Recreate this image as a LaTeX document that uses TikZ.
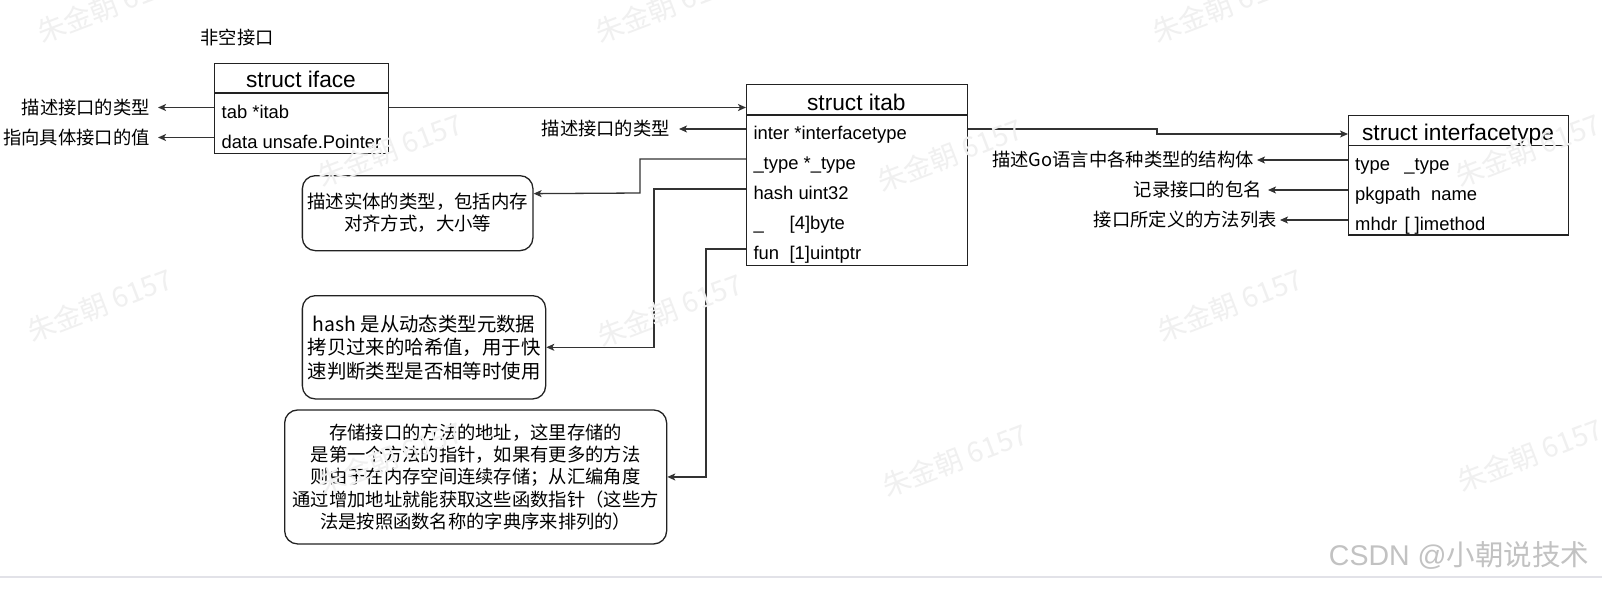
\documentclass[tikz,border=0pt]{standalone}
\usepackage{fontspec}
\setmainfont{Liberation Sans}
\newfontfamily\cjk{Noto Sans CJK SC}
\usetikzlibrary{arrows.meta}
\definecolor{ln}{HTML}{333333}
\definecolor{bd}{HTML}{222222}
\definecolor{wmc}{HTML}{F0F0F0}
\definecolor{csdn}{HTML}{C2C2C2}
\definecolor{barc}{HTML}{E2E2E8}
\begin{document}
\begin{tikzpicture}[x=1pt,y=-1pt,
  box/.style={draw=bd, line width=1.3pt, fill=white, inner sep=0pt, anchor=north west},
  hdr/.style={font=\fontsize{22.7}{26}\selectfont, inner sep=0pt, anchor=base, text height=17pt, text depth=5pt},
  row/.style={font=\fontsize{18.4}{22}\selectfont, anchor=west, inner sep=0pt, text height=21pt, text depth=0pt},
  lbl/.style={font=\cjk\fontsize{18.3}{22}\selectfont, anchor=east, inner sep=0pt, text height=15pt, text depth=1.5pt},
  note/.style={draw=bd, line width=1.3pt, rounded corners=13pt, fill=white, align=center, inner sep=0pt, anchor=north west},
  conn/.style={draw=ln, line width=1.3pt, -{Stealth[length=8pt,width=7pt,inset=2pt]}},
  sep/.style={draw=bd, line width=1.3pt},
  wm/.style={font=\cjk\fontsize{28}{28}\selectfont, text=wmc, rotate=21, inner sep=0pt}
]
\useasboundingbox (0,0) rectangle (1602,592);
\fill[white] (0,0) rectangle (1602,592);

% title
\node[font=\cjk\fontsize{18.3}{22}\selectfont, inner sep=0pt] (title) at (237,38) {非空接口};

% struct iface
\node[box, minimum width=174pt, minimum height=90pt] (iface) at (214,63) {};
\draw[sep] (214,93) -- (388,93);
\node[hdr] (ifaceh) at (301,87.7) {struct iface};
\node[row] (tab) at (221.5,107.5) {tab *itab};
\node[row] (data) at (221.5,137.5) {data unsafe.Pointer};

% struct itab
\node[box, minimum width=220.7pt, minimum height=181pt] (itab) at (746,84) {};
\draw[sep] (746,115) -- (966.7,115);
\node[hdr] (itabh) at (856.3,110) {struct itab};
\node[row] (inter) at (753.3,129) {inter *interfacetype};
\node[row] (ty) at (753.3,159) {\_type *\_type};
\node[row] (hs) at (753.3,189) {hash uint32};
\node[row] (pad) at (753.3,219) {\_\hspace{26pt}[4]byte};
\node[row] (fn) at (753.3,249) {fun\hspace{10.5pt}[1]uintptr};

% struct interfacetype
\node[box, minimum width=220pt, minimum height=119.3pt] (itype) at (1348,115) {};
\draw[sep] (1348,145.7) -- (1568,145.7);
\node[hdr] (itypeh) at (1458,140) {struct interfacetype};
\node[row] (ty2) at (1355,160) {type\hspace{14.5pt}\_type};
\node[row] (pkg) at (1355,190) {pkgpath\hspace{10.5pt}name};
\node[row] (mh) at (1355,220) {mhdr\hspace{7.5pt}[\hspace{5pt}]imethod};

% notes
\node[note, minimum width=230.6pt, minimum height=75pt, font=\cjk\fontsize{18.4}{22}\selectfont] (n1) at (301.7,175)
  {描述实体的类型，包括内存\\对齐方式，大小等};
\node[note, minimum width=243.3pt, minimum height=103.3pt, font=\cjk\fontsize{19.4}{23.5}\selectfont] (n2) at (301.7,295)
  {hash 是从动态类型元数据\\拷贝过来的哈希值，用于快\\速判断类型是否相等时使用};
\node[note, minimum width=382pt, minimum height=134pt, font=\cjk\fontsize{18.3}{22.4}\selectfont] (n3) at (284,409.3)
  {存储接口的方法的地址，这里存储的\\是第一个方法的指针，如果有更多的方法\\则由于在内存空间连续存储；从汇编角度\\通过增加地址就能获取这些函数指针（这些方\\法是按照函数名称的字典序来排列的）};

% labels
\node[lbl] (lt) at (150,107.5) {描述接口的类型};
\node[lbl] (ld) at (150,137.5) {指向具体接口的值};
\node[lbl] (li) at (670,129) {描述接口的类型};
\node[lbl] (r1) at (1254,160) {描述Go语言中各种类型的结构体};
\node[lbl] (r2) at (1262,190) {记录接口的包名};
\node[lbl] (r3) at (1277,220) {接口所定义的方法列表};

% connectors
\draw[conn] (iface.west |- tab.west) -- ([xshift=8pt]lt.east);
\draw[conn] (iface.west |- data.west) -- ([xshift=8pt]ld.east);
\draw[conn] (iface.east |- tab.west) -- (itab.west |- tab.west);
\draw[conn] (itab.west |- inter.west) -- ([xshift=9pt]li.east);
\coordinate (jog) at (1157,0);
\draw[conn] (itab.east |- inter.west) -- (jog |- inter.west) -- (jog |- itypeh) -- (itype.west |- itypeh);
\draw[conn] (itab.west |- ty.west) -| (640,193) -- ([yshift=19.5pt]n1.east);
\coordinate (xh) at (654,0);
\draw[conn] (itab.west |- hs.west) -| (xh |- n2.east) -- (n2.east);
\coordinate (xf) at (706,0);
\draw[conn] (itab.west |- fn.west) -| (xf |- n3.east) -- (n3.east);
\draw[conn] (itype.west |- ty2.west) -- ([xshift=3pt]r1.east);
\draw[conn] (itype.west |- pkg.west) -- ([xshift=6pt]r2.east);
\draw[conn] (itype.west |- mh.west) -- ([xshift=3pt]r3.east);

% watermarks
\foreach \x/\y [count=\i] in {110/6, 668/6, 1225/6, 390/150, 950/155, 1528/150, 100/305, 670/310, 1230/305, 390/458, 955/460, 1530/455}
  \node[wm] (wm\i) at (\x,\y) {朱金朝 6157};
\draw[barc, line width=2pt] (0,577) -- (1602,577);
\node[font=\fontsize{28.5}{28.5}\selectfont, text=csdn, inner sep=0pt] (csdn) at (1459,555) {CSDN @{\cjk 小朝说技术}};
\end{tikzpicture}
\end{document}
